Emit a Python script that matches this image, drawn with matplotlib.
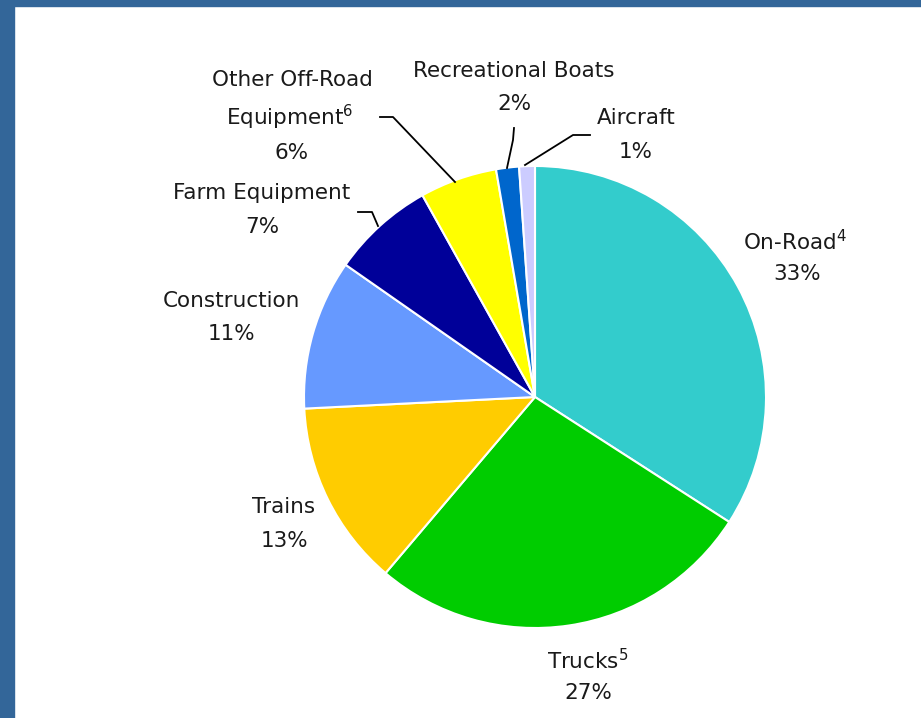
import matplotlib
matplotlib.use("Agg")
import matplotlib.pyplot as plt
from matplotlib.patches import Rectangle

# ---- data ----
categories = ["On-Road", "Trucks", "Trains", "Construction", "Farm Equipment",
              "Other Off-Road\nEquipment", "Recreational Boats", "Aircraft"]
values = [34.1, 27.1, 13.0, 10.5, 7.2, 5.4, 1.6, 1.1]
pct_labels = ["33%", "27%", "13%", "11%", "7%", "6%", "2%", "1%"]
superscripts = ["4", "5", "", "", "", "6", "", ""]
colors = ["#33CCCC", "#00CC00", "#FFCC00", "#6699FF", "#000099",
          "#FFFF00", "#0066CC", "#CCCCFF"]

W, H = 921, 718
fig = plt.figure(figsize=(W / 100, H / 100), dpi=100)
ax = fig.add_axes([0, 0, 1, 1])

def py(y):
    return H - y

# pie
cx, cy, r = 535, py(397), 231
ax.pie(values, colors=colors, startangle=90, counterclock=False,
       center=(cx, cy), radius=r,
       wedgeprops=dict(edgecolor="white", linewidth=1.5), frame=True)
ax.set_xlim(0, W)
ax.set_ylim(0, H)
ax.set_aspect("equal")
ax.axis("off")

# frame
border = "#336699"
ax.add_patch(Rectangle((0, 0), 14, H, color=border, zorder=0))
ax.add_patch(Rectangle((0, py(6)), W, 6, color=border, zorder=0))

# label layout (pixel coordinates of line centres)
label_pos = [
    [(795, 242), (797, 274)],
    [(588, 661), (588, 693)],
    [(284, 507), (284, 541)],
    [(231, 301), (231, 334)],
    [(262, 193), (262, 227)],
    [(292, 80), (290, 117), (292, 153)],
    [(514, 71), (514, 104)],
    [(636, 118), (636, 152)],
]
fs = 15.5
for name, pct, sup, pos in zip(categories, pct_labels, superscripts, label_pos):
    lines = name.split("\n") + [pct]
    for i, (txt, (x, y)) in enumerate(zip(lines, pos)):
        if sup and i == len(lines) - 2:
            txt = txt + r"$^{" + sup + "}$"
        ax.text(x, py(y), txt, ha="center", va="center", fontsize=fs,
                color="#1a1a1a", family="DejaVu Sans")

# leader lines
leaders = [
    [(380, 117), (393, 117), (455, 182)],
    [(514, 128), (513, 140), (507, 168)],
    [(590, 135), (573, 135), (525, 165)],
    [(358, 212), (372, 212), (378, 226)],
]
for pts in leaders:
    xs = [p[0] for p in pts]
    ys = [py(p[1]) for p in pts]
    ax.plot(xs, ys, color="black", lw=1.3, zorder=5)

fig.savefig("out.png", dpi=100, facecolor="white")
